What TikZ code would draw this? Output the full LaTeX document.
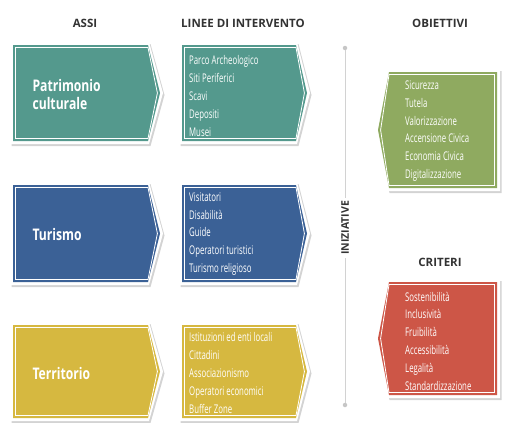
\documentclass[tikz,border=0pt]{standalone}
\usepackage{fontspec}
\setmainfont{Open Sans}
\newfontfamily\listfont[FakeStretch=0.65]{Open Sans}
\newfontfamily\axisfont[FakeStretch=0.76]{Open Sans}
\usetikzlibrary{shadows}

\definecolor{tealbox}{RGB}{84,153,141}
\definecolor{bluebox}{RGB}{59,97,150}
\definecolor{goldbox}{RGB}{214,184,64}
\definecolor{greenbox}{RGB}{143,170,96}
\definecolor{redbox}{RGB}{205,86,71}
\definecolor{headgray}{RGB}{51,51,51}

\tikzset{
  frame/.style={fill=white,drop shadow={opacity=0.35,shadow xshift=1.5pt,shadow yshift=-2pt}},
  inset/.style={white,line width=0.8pt,line join=miter},
  head/.style={font=\bfseries\fontsize{11.5}{13}\selectfont,text=headgray},
  axis/.style={font=\axisfont\bfseries\fontsize{16}{18}\selectfont,text=white,anchor=west,align=left},
  items/.style={font=\listfont\fontsize{12}{17.8}\selectfont,text=white,anchor=west,align=left,inner sep=0pt},
  dot/.style={circle,fill=gray!45,inner sep=0pt,minimum size=4.5pt}
}

% right pointing box: x1,y1,x2,y2,tip,colour
\newcommand{\boxright}[6]{%
  \fill[frame] (#1-3,#2-3) -- (#3+1,#2-3) -- (#3+#5+3,{(#2+#4)/2}) -- (#3+1,#4+3) -- (#1-3,#4+3) -- cycle;
  \fill[#6] (#1,#2) -- (#3,#2) -- (#3+#5,{(#2+#4)/2}) -- (#3,#4) -- (#1,#4) -- cycle;
  \draw[inset] (#1+2.5,#2+2.5) -- (#3,#2+2.5) -- (#3+#5-2.6,{(#2+#4)/2}) -- (#3,#4-2.5) -- (#1+2.5,#4-2.5) -- cycle;
}
% left pointing box: x1,y1,x2,y2,tip,colour
\newcommand{\boxleft}[6]{%
  \fill[frame] (#3+3,#2-3) -- (#1-1,#2-3) -- (#1-#5-3,{(#2+#4)/2}) -- (#1-1,#4+3) -- (#3+3,#4+3) -- cycle;
  \fill[#6] (#3,#2) -- (#1,#2) -- (#1-#5,{(#2+#4)/2}) -- (#1,#4) -- (#3,#4) -- cycle;
  \draw[inset] (#3-2.5,#2+2.5) -- (#1,#2+2.5) -- (#1-#5+2.6,{(#2+#4)/2}) -- (#1,#4-2.5) -- (#3-2.5,#4-2.5) -- cycle;
}

\begin{document}
\begin{tikzpicture}[x=1pt,y=-1pt]
  \useasboundingbox (0,0) rectangle (506,423);

  % headings
  \node[head] (assi) at (85,23) {ASSI};
  \node[head] (linee) at (243,23) {LINEE DI INTERVENTO};
  \node[head] (obiettivi) at (440,23) {OBIETTIVI};
  \node[head] (criteri) at (440,262) {CRITERI};

  % assi
  \boxright{13}{45}{148}{141}{12}{tealbox}
  \boxright{13}{185}{148}{282}{12}{bluebox}
  \boxright{13}{325}{148}{418}{12}{goldbox}
  \node[axis] (patrimonio) at (29,94) {Patrimonio\\culturale};
  \node[axis] (turismo) at (29,234) {Turismo};
  \node[axis] (territorio) at (29,373) {Territorio};

  % linee di intervento
  \boxright{182}{45}{296}{141}{11}{tealbox}
  \boxright{182}{185}{296}{282}{11}{bluebox}
  \boxright{182}{325}{296}{418}{11}{goldbox}
  \node[items] (lineaA) at (189,96) {Parco Archeologico\\Siti Periferici\\Scavi\\Depositi\\Musei};
  \node[items] (lineaB) at (189,234) {Visitatori\\Disabilità\\Guide\\Operatori turistici\\Turismo religioso};
  \node[items] (lineaC) at (189,373) {Istituzioni ed enti locali\\Cittadini\\Associazionismo\\Operatori economici\\Buffer Zone};

  % iniziative
  \node[dot] (top) at (345,48) {};
  \node[dot] (bottom) at (345,405) {};
  \draw[gray!35,line width=0.8pt] (top) -- (bottom);
  \node[head,rotate=90,fill=white,font=\bfseries\fontsize{10.5}{12}\selectfont,inner sep=3pt] (iniziative) at (345,228) {INIZIATIVE};

  % obiettivi e criteri
  \boxleft{389}{72}{497}{188}{11}{greenbox}
  \boxleft{389}{282}{497}{395}{11}{redbox}
  \node[items] (obj) at (405,131) {Sicurezza\\Tutela\\Valorizzazione\\Accensione Civica\\Economia Civica\\Digitalizzazione};
  \node[items] (crit) at (405,341) {Sostenibilità\\Inclusività\\Fruibilità\\Accessibilità\\Legalità\\Standardizzazione};
\end{tikzpicture}
\end{document}
